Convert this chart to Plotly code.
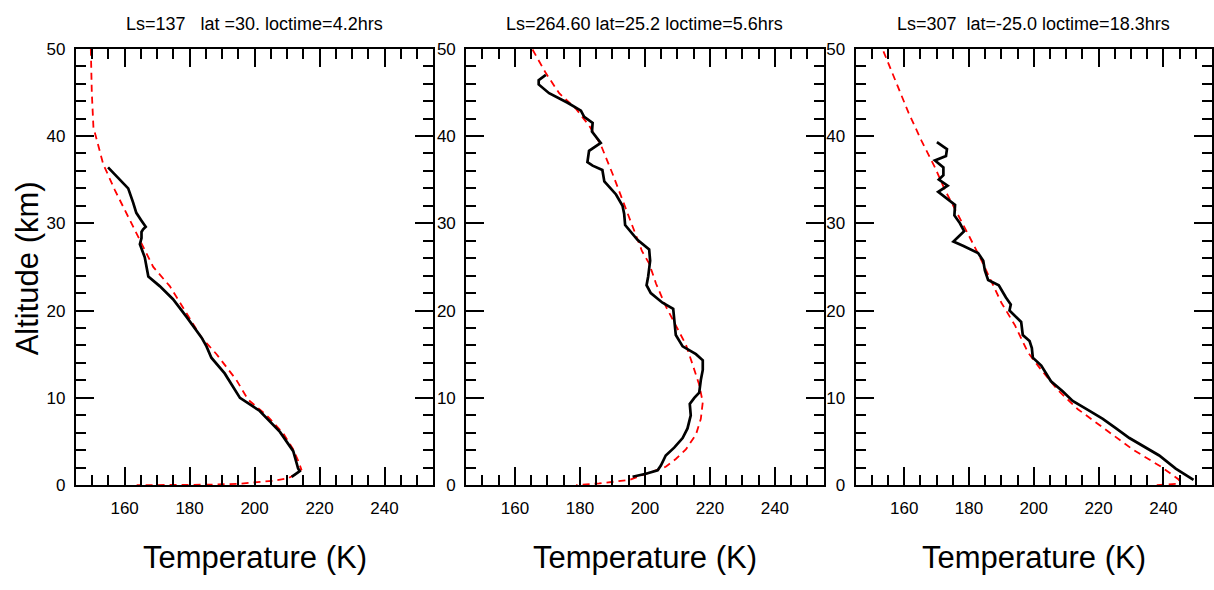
import plotly.graph_objects as go

# ---------------- data ----------------
titles = ["Ls=137\u00a0\u00a0\u00a0lat =30. loctime=4.2hrs",
          "Ls=264.60 lat=25.2 loctime=5.6hrs",
          "Ls=307\u00a0\u00a0lat=-25.0 loctime=18.3hrs"]

# Panel 1
obs1_z = [36.4, 35.0, 34.0, 32.4, 31.2, 30.3, 29.6, 29.3, 29.0, 28.3, 27.6, 26.1, 23.9, 22.8,
          21.3, 19.3, 16.9, 15.9, 14.6, 12.8, 11.3, 10.0, 8.5, 6.1, 3.9, 1.9, 1.6, 0.96]
obs1_t = [154.9, 158.5, 161.1, 162.6, 163.6, 165.2, 166.5, 165.7, 165.2, 165.2, 164.7, 166.2, 167.3, 170.8,
          174.9, 179.0, 183.7, 185.2, 186.7, 190.8, 193.4, 195.5, 201.6, 207.8, 211.9, 213.4, 213.9, 211.4]
mod1_z = [50, 45, 41, 39, 36.8, 33.8, 31.1, 27.9, 25.0, 22.8, 19.8, 16.9, 15.0, 12.05, 9.8, 8.0,
          5.95, 4.1, 2.8, 1.8, 1.3, 0.78, 0.5, 0.3, 0.15, 0.05, 0]
mod1_t = [149.6, 149.9, 150.4, 151.9, 153.4, 157.0, 160.6, 164.7, 168.8, 173.9, 179.0, 183.7, 188.3, 194.4, 198.0, 203.7,
          208.8, 211.9, 213.4, 214.4, 212.9, 210.3, 205.7, 200.6, 195.0, 185.0, 163.7]

# Panel 2
obs2_z = [47.0, 46.4, 45.9, 44.9, 43.8, 42.9, 42.2, 41.5, 40.5, 39.2, 38.3, 37.0, 36.6, 36.1, 34.8,
          33.3, 32.0, 31.1, 29.8, 29.0, 28.1, 27.0, 25.7, 23.9, 22.9, 22.0, 20.9, 20.2, 18.7, 17.2,
          15.9, 15.0, 14.3, 13.2, 12.05, 10.6, 10.0, 9.3, 8.0, 6.5, 5.4, 4.3, 3.4, 2.25, 1.7, 1.3, 0.96]
obs2_t = [169.5, 167.3, 167.3, 170.5, 176.2, 180.3, 181.3, 183.9, 183.7, 186.4, 182.8, 182.3, 183.9, 186.9, 187.5,
          191.1, 193.1, 193.6, 193.9, 195.7, 197.7, 201.3, 201.6, 201.0, 200.5, 201.8, 205.4, 208.7, 209.0, 209.5,
          211.6, 215.7, 217.8, 217.8, 217.2, 216.7, 215.2, 213.8, 214.1, 213.1, 211.6, 209.0, 206.4, 204.9, 203.9, 200.3, 196.2]
mod2_z = [49.9, 47.2, 44.9, 43.1, 41.2, 39.0, 35.7, 32.7, 30.2, 27.9, 26.8, 25.4, 23.1, 20.5, 18.0,
          16.1, 13.9, 11.5, 9.5, 7.6, 5.8, 4.1, 3.0, 2.1, 1.7, 0.6, 0.2, 0]
mod2_t = [165.4, 169.5, 173.6, 178.8, 182.8, 186.4, 190.0, 193.1, 195.7, 198.2, 199.1, 201.3, 203.4, 206.4, 210.0,
          212.6, 214.6, 216.7, 217.8, 217.2, 215.7, 212.6, 209.5, 206.4, 203.4, 195.2, 185.9, 178.8]

# Panel 3
obs3_z = [39.3, 38.5, 37.7, 37.2, 36.4, 35.5, 35.0, 34.3, 33.6, 32.9, 32.1, 30.9, 30.0, 29.1, 27.9,
          27.4, 26.6, 25.7, 24.6, 23.5, 22.9, 21.5, 20.7, 20.0, 18.7, 17.2, 16.5, 15.7, 14.6, 13.7,
          11.9, 10.75, 9.65, 8.5, 7.6, 6.5, 5.4, 3.4, 1.9, 0.6]
obs3_t = [170.1, 173.2, 172.9, 169.5, 172.1, 172.1, 170.7, 173.4, 170.5, 173.1, 175.7, 175.5, 177.2, 178.5, 175.2,
          178.3, 182.8, 184.4, 184.9, 185.9, 189.2, 191.4, 192.9, 192.5, 196.1, 196.6, 198.7, 199.4, 199.7, 202.3,
          205.3, 208.9, 212.0, 217.2, 221.3, 225.4, 229.5, 238.7, 243.8, 249.3]
mod3_z = [49.7, 46.4, 42.7, 39.4, 36.4, 33.8, 31.3, 28.7, 26.1, 22.8, 20.9, 18.3, 15.2, 13.2, 10.9,
          8.7, 6.7, 4.1, 2.1, 1.1, 0.6, 0.15, 0]
mod3_t = [153.6, 157.2, 161.3, 165.4, 169.5, 172.6, 176.2, 179.8, 183.4, 187.5, 190.0, 194.2, 198.2, 202.3, 207.4,
          213.6, 220.8, 230.5, 239.3, 243.0, 244.9, 244.4, 237.2]

x_range = [145, 255]
y_range = [0, 50]
x_title = "Temperature (K)"
y_title = "Altitude (km)"

# ---------------- layout ----------------
W, H = 1214, 590
FONT = "Liberation Sans, Arial, Helvetica, sans-serif"
px_domains = [(76, 434), (467, 825), (857, 1214)]
top_px, bot_px = 41, 492
ydom = [1 - bot_px / H, 1 - top_px / H]

fig = go.Figure()
panels = [(obs1_t, obs1_z, mod1_t, mod1_z),
          (obs2_t, obs2_z, mod2_t, mod2_z),
          (obs3_t, obs3_z, mod3_t, mod3_z)]

layout = dict(width=W, height=H, margin=dict(l=0, r=0, t=0, b=0),
              paper_bgcolor="white", plot_bgcolor="white", showlegend=False,
              font=dict(family=FONT, color="black"))
annotations = []

for i, (ot, oz, mt, mz) in enumerate(panels):
    n = "" if i == 0 else str(i + 1)
    xa = "x" + n
    ya = "y" + n
    fig.add_trace(go.Scatter(x=mt, y=mz, mode="lines", xaxis=xa, yaxis=ya,
                             line=dict(color="#ff0000", width=1.8, dash="7px,5px")))
    fig.add_trace(go.Scatter(x=ot, y=oz, mode="lines", xaxis=xa, yaxis=ya,
                             line=dict(color="black", width=2.7)))
    d0, d1 = px_domains[i]
    common = dict(ticks="inside", tickwidth=1.8, tickcolor="black", showline=True,
                  linewidth=2, linecolor="black", mirror="ticks", showgrid=False,
                  zeroline=False, tickfont=dict(size=17, family=FONT, color="black"))
    layout["xaxis" + n] = dict(domain=[d0 / W, d1 / W], anchor=ya, range=x_range,
                               tickmode="linear", tick0=0, dtick=20, ticklen=18,
                               minor=dict(dtick=5, tick0=0, ticks="inside", ticklen=10,
                                          tickwidth=1.8, tickcolor="black", showgrid=False),
                               ticklabelstandoff=6, **common)
    layout["yaxis" + n] = dict(domain=ydom, anchor=xa, range=y_range,
                               tickmode="linear", tick0=0, dtick=10, ticklen=18,
                               minor=dict(dtick=2, tick0=0, ticks="inside", ticklen=10,
                                          tickwidth=1.8, tickcolor="black", showgrid=False),
                               ticklabelstandoff=5, **common)
    cx = (d0 + d1) / 2 / W
    annotations.append(dict(text=titles[i], x=cx, y=1 - 15 / H, xref="paper", yref="paper",
                            xanchor="center", yanchor="middle", showarrow=False,
                            font=dict(size=18, family=FONT, color="black")))
    annotations.append(dict(text=x_title, x=cx, y=1 - 567 / H, xref="paper", yref="paper",
                            xanchor="center", yanchor="middle", showarrow=False,
                            font=dict(size=31, family=FONT, color="black")))

annotations.append(dict(text=y_title, x=27 / W, y=1 - 268 / H, xref="paper", yref="paper",
                        xanchor="center", yanchor="middle", showarrow=False, textangle=-90,
                        font=dict(size=31, family=FONT, color="black")))
layout["annotations"] = annotations
fig.update_layout(**layout)
fig.write_html("out.html")
